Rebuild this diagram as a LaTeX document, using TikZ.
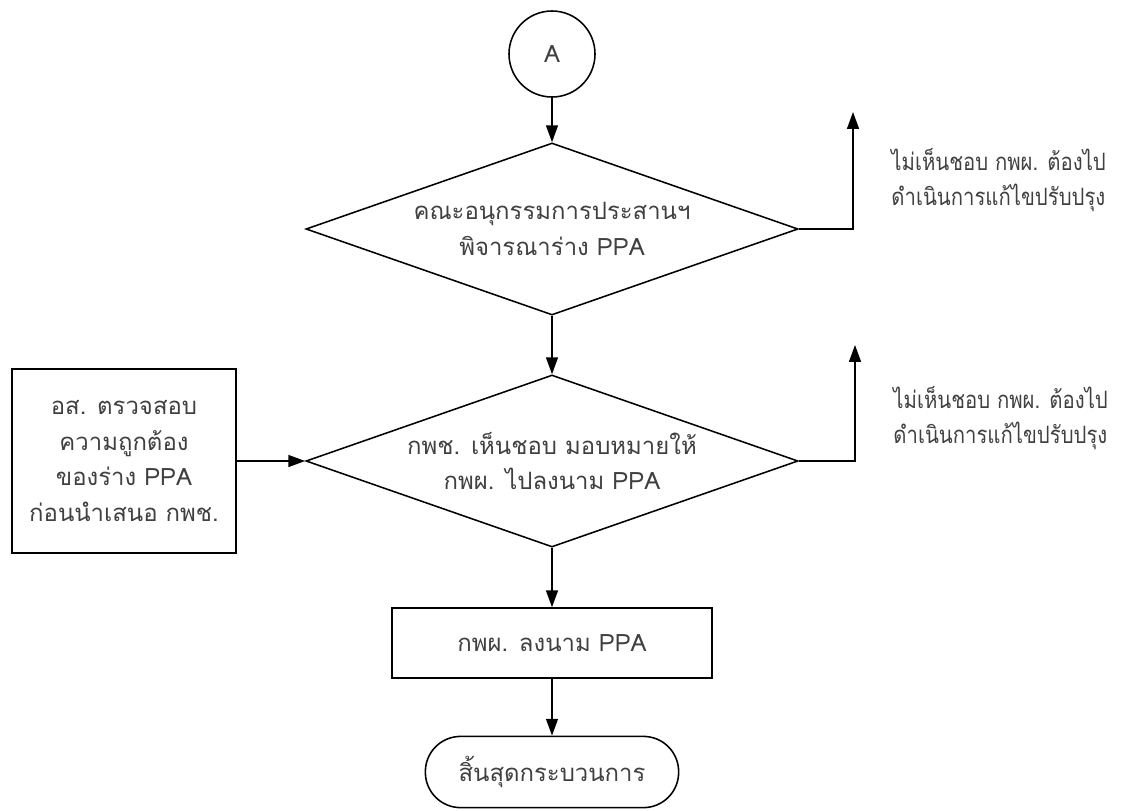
\documentclass[tikz,border=0pt]{standalone}
\usepackage{fontspec}
\setmainfont[Script=Thai]{Loma}
\newfontfamily\notefont[Script=Thai, FakeStretch=0.85]{Loma}
\usetikzlibrary{arrows.meta, shapes.geometric}

\begin{document}
\begin{tikzpicture}[
  x=0.025cm, y=-0.025cm,
  line width=1.1pt,
  font=\fontsize{17}{25.5}\selectfont,
  flow/.style={draw=black, -{Triangle[length=12pt,width=8.5pt]}},
  decide/.style={draw=black, diamond, aspect=2.9, inner sep=0pt,
    minimum width=12.3cm, minimum height=4.3cm, align=center, text=black!75},
  procbox/.style={draw=black, rectangle, align=center, text=black!75},
  endbox/.style={draw=black, rectangle, rounded corners=0.88cm,
    minimum width=6.33cm, minimum height=1.78cm, text=black!75},
  note/.style={anchor=west, align=left, text=black!75,
    font=\notefont\fontsize{17}{25.5}\selectfont},
]
  \useasboundingbox (0,0) rectangle (1130,810);

  % ขั้นตอนหลัก
  \node[draw=black, circle, minimum size=2.15cm, text=black!75] (A) at (552,54) {A};
  \node[decide] (d1) at (552,229) {คณะอนุกรรมการประสานฯ\\พิจารณาร่าง PPA};
  \node[decide] (d2) at (552,461) {กพช. เห็นชอบ มอบหมายให้\\กพผ. ไปลงนาม PPA};
  \node[procbox, minimum width=5.6cm, minimum height=4.6cm] (chk) at (124,461)
    {อส. ตรวจสอบ\\ความถูกต้อง\\ของร่าง PPA\\ก่อนนำเสนอ กพช.};
  \node[procbox, minimum width=8cm, minimum height=1.75cm] (sign) at (552,643) {กพผ. ลงนาม PPA};
  \node[endbox] (fin) at (552,772) {สิ้นสุดกระบวนการ};

  % ทางไม่เห็นชอบ
  \coordinate (up1) at (853,112);
  \coordinate (up2) at (855,345);
  \node[note] (n1) at (886,180) {ไม่เห็นชอบ กพผ. ต้องไป\\ดำเนินการแก้ไขปรับปรุง};
  \node[note] (n2) at (888,418) {ไม่เห็นชอบ กพผ. ต้องไป\\ดำเนินการแก้ไขปรับปรุง};

  \draw[flow] (A) -- (d1);
  \draw[flow] (d1) -- (d2);
  \draw[flow] (chk) -- (d2);
  \draw[flow] (d2) -- (sign);
  \draw[flow] (sign) -- (fin);
  \draw[flow] (d1.east) -| (up1);
  \draw[flow] (d2.east) -| (up2);
\end{tikzpicture}
\end{document}
